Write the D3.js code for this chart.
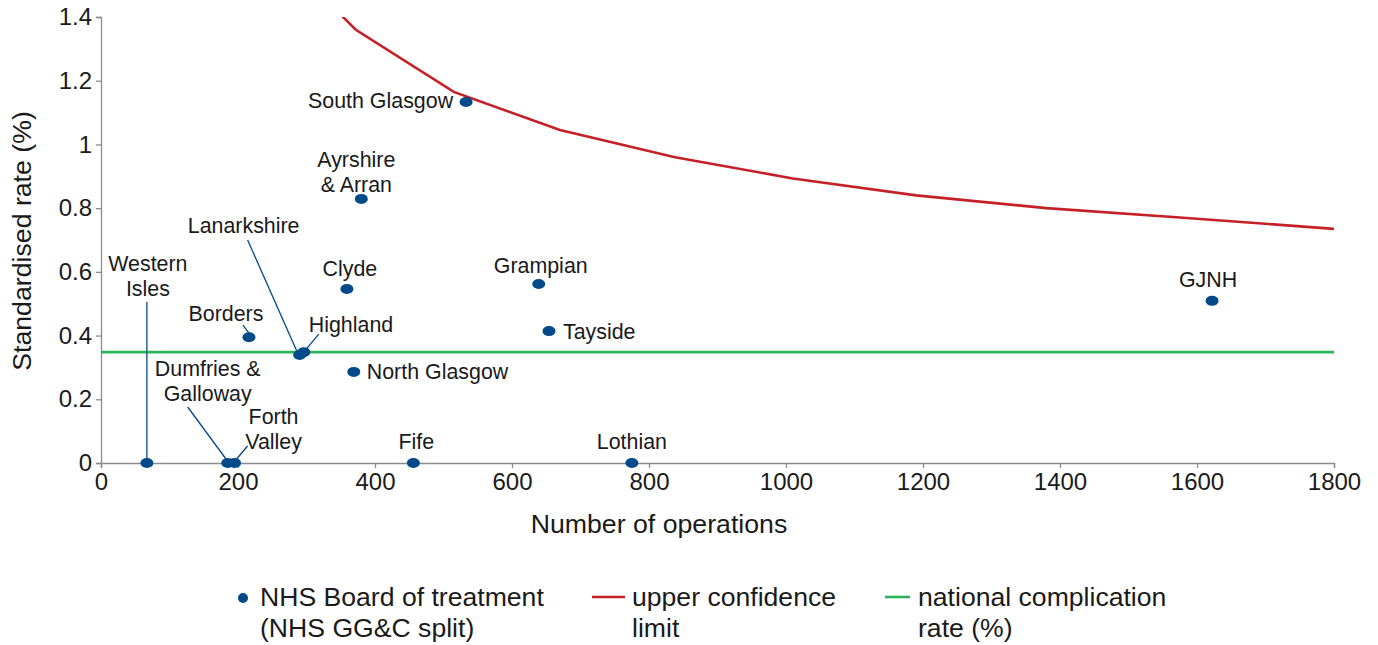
<!DOCTYPE html>
<html>
<head>
<meta charset="utf-8">
<script src="https://cdn.jsdelivr.net/npm/d3@7"></script>
<style>
  body { margin: 0; background: #fff; }
  text { font-family: "Liberation Sans", Arial, Helvetica, sans-serif; fill: #1a1a1a; }
</style>
</head>
<body>
<div id="chart"></div>
<script>
// donnees
var boards = ["Western Isles", "Dumfries & Galloway", "Forth Valley", "Borders", "Lanarkshire",
              "Highland", "Clyde", "North Glasgow", "Ayrshire & Arran", "Fife", "South Glasgow",
              "Grampian", "Tayside", "Lothian", "GJNH"];
var operations = [67, 185, 195, 216, 290, 296, 359, 369, 380, 456, 533, 639, 654, 775, 1622];
var rates = [0, 0, 0, 0.395, 0.339, 0.348, 0.546, 0.286, 0.829, 0, 1.133, 0.562, 0.414, 0, 0.509];

var limitOps = [330, 372, 515, 670, 838, 1010, 1190, 1380, 1580, 1800];
var limitRates = [1.45, 1.36, 1.165, 1.045, 0.96, 0.893, 0.84, 0.80, 0.77, 0.735];

var nationalRate = 0.348;

var xTicks = [0, 200, 400, 600, 800, 1000, 1200, 1400, 1600, 1800];
var yTicks = [0, 0.2, 0.4, 0.6, 0.8, 1, 1.2, 1.4];

// placement des etiquettes (decalages en pixels par rapport au point)
var labelLayout = {
  "Western Isles":       {lines: ["Western", "Isles"], anchor: "middle", dx: 1, dy: -192, leader: [0, -161, 0, -2]},
  "Dumfries & Galloway": {lines: ["Dumfries &", "Galloway"], anchor: "middle", dx: -20, dy: -87, leader: [-40, -56, -1, -3]},
  "Forth Valley":        {lines: ["Forth", "Valley"], anchor: "middle", dx: 39, dy: -39, leader: [13, -17, 2, -4]},
  "Borders":             {lines: ["Borders"], anchor: "middle", dx: -23, dy: -16, leader: [-6, -12, 0, -4]},
  "Lanarkshire":         {lines: ["Lanarkshire"], anchor: "middle", dx: -56, dy: -122, leader: [-52, -115, -2, -2]},
  "Highland":            {lines: ["Highland"], anchor: "start", dx: 5, dy: -20, leader: [15, -18, 0, 0]},
  "Clyde":               {lines: ["Clyde"], anchor: "middle", dx: 3, dy: -13},
  "North Glasgow":       {lines: ["North Glasgow"], anchor: "start", dx: 13, dy: 7},
  "Ayrshire & Arran":    {lines: ["Ayrshire", "& Arran"], anchor: "middle", dx: -5, dy: -32},
  "Fife":                {lines: ["Fife"], anchor: "middle", dx: 3, dy: -14},
  "South Glasgow":       {lines: ["South Glasgow"], anchor: "end", dx: -13, dy: 6},
  "Grampian":            {lines: ["Grampian"], anchor: "middle", dx: 2, dy: -11},
  "Tayside":             {lines: ["Tayside"], anchor: "start", dx: 14, dy: 8},
  "Lothian":             {lines: ["Lothian"], anchor: "middle", dx: 0, dy: -14},
  "GJNH":                {lines: ["GJNH"], anchor: "middle", dx: -4, dy: -14}
};

var blue = "#004a8a", red = "#c62027", green = "#2cb45b", axisGrey = "#8c8c8c";

var width = 1378, height = 645;
var svg = d3.select("#chart").append("svg").attr("width", width).attr("height", height);

var x = d3.scaleLinear().domain([0, 1800]).range([101, 1334]);
var y = d3.scaleLinear().domain([0, 1.4]).range([463, 17]);

svg.append("defs").append("clipPath").attr("id", "zone")
   .append("rect").attr("x", 101).attr("y", 17).attr("width", 1233).attr("height", 446);

// axes
var xAxis = svg.append("g").attr("transform", "translate(0,463)")
   .call(d3.axisBottom(x).tickValues(xTicks).tickSize(5).tickFormat(d3.format("d")));
var yAxis = svg.append("g").attr("transform", "translate(101,0)")
   .call(d3.axisLeft(y).tickValues(yTicks).tickSize(5).tickFormat(function(d) { return d; }));

[xAxis, yAxis].forEach(function(a) {
  a.select(".domain").attr("stroke", axisGrey).attr("stroke-width", 1.3);
  a.selectAll(".tick line").attr("stroke", axisGrey).attr("stroke-width", 1.3);
  a.selectAll(".tick text").style("font-family", "Liberation Sans, Arial, sans-serif")
   .style("font-size", "24px").attr("fill", "#1a1a1a");
});
xAxis.selectAll(".tick text").attr("dy", "0.95em").attr("y", 4);
yAxis.selectAll(".tick text").attr("x", -9);

// titres des axes
svg.append("text").attr("x", 659).attr("y", 533).attr("text-anchor", "middle")
   .style("font-size", "26.7px").text("Number of operations");
svg.append("text").attr("transform", "translate(31,241) rotate(-90)").attr("text-anchor", "middle")
   .style("font-size", "26.7px").text("Standardised rate (%)");

// limite superieure et taux national
var limitData = limitOps.map(function(o, i) { return [o, limitRates[i]]; });
svg.append("path").datum(limitData)
   .attr("clip-path", "url(#zone)")
   .attr("d", d3.line().x(function(d) { return x(d[0]); }).y(function(d) { return y(d[1]); }))
   .attr("fill", "none").attr("stroke", red).attr("stroke-width", 2.6);

svg.append("line").attr("x1", x(0)).attr("x2", x(1800))
   .attr("y1", y(nationalRate)).attr("y2", y(nationalRate))
   .attr("stroke", green).attr("stroke-width", 2.6);

// points et etiquettes
var pts = boards.map(function(b, i) { return {name: b, ops: operations[i], rate: rates[i]}; });

pts.forEach(function(p) {
  var L = labelLayout[p.name];
  if (L.leader) {
    svg.append("line")
       .attr("x1", x(p.ops) + L.leader[0]).attr("y1", y(p.rate) + L.leader[1])
       .attr("x2", x(p.ops) + L.leader[2]).attr("y2", y(p.rate) + L.leader[3])
       .attr("stroke", blue).attr("stroke-width", 1.3);
  }
});

svg.selectAll("ellipse.pt").data(pts).enter().append("ellipse").attr("class", "pt")
   .attr("cx", function(d) { return x(d.ops); })
   .attr("cy", function(d) { return y(d.rate); })
   .attr("rx", 6.5).attr("ry", 5)
   .attr("fill", blue);

pts.forEach(function(p) {
  var L = labelLayout[p.name];
  var t = svg.append("text")
     .attr("x", x(p.ops) + L.dx).attr("y", y(p.rate) + L.dy)
     .attr("text-anchor", L.anchor).style("font-size", "21.4px");
  L.lines.forEach(function(line, k) {
    t.append("tspan").attr("x", x(p.ops) + L.dx).attr("dy", k == 0 ? 0 : 25).text(line);
  });
});

// legende
var leg = svg.append("g");
leg.append("circle").attr("cx", 243).attr("cy", 598).attr("r", 5).attr("fill", blue);
var lt1 = leg.append("text").attr("x", 260).attr("y", 606).style("font-size", "26.6px");
lt1.append("tspan").attr("x", 260).text("NHS Board of treatment");
lt1.append("tspan").attr("x", 260).attr("dy", 31).text("(NHS GG&C split)");

leg.append("line").attr("x1", 592).attr("x2", 625).attr("y1", 597).attr("y2", 597)
   .attr("stroke", red).attr("stroke-width", 2.6);
var lt2 = leg.append("text").attr("x", 632).attr("y", 606).style("font-size", "26.6px");
lt2.append("tspan").attr("x", 632).text("upper confidence");
lt2.append("tspan").attr("x", 632).attr("dy", 31).text("limit");

leg.append("line").attr("x1", 885).attr("x2", 910).attr("y1", 597).attr("y2", 597)
   .attr("stroke", green).attr("stroke-width", 2.6);
var lt3 = leg.append("text").attr("x", 918).attr("y", 606).style("font-size", "26.6px");
lt3.append("tspan").attr("x", 918).text("national complication");
lt3.append("tspan").attr("x", 918).attr("dy", 31).text("rate (%)");
</script>
</body>
</html>
